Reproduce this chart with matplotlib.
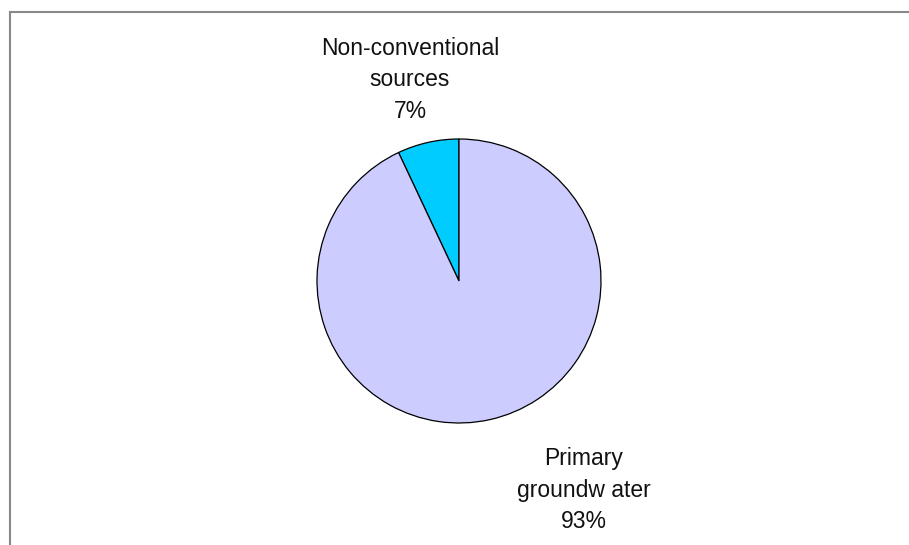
import matplotlib.pyplot as plt
from matplotlib.lines import Line2D

# water supply shares
labels = ["Non-conventional\nsources", "Primary\ngroundw ater"]
shares = [7, 93]
colors = ["#00CCFF", "#CCCCFF"]

W, H = 909, 545
fig = plt.figure(figsize=(W / 100, H / 100), dpi=100)
ax = fig.add_axes([0, 0, 1, 1])

cx, cy, r = 459, H - 281, 142
ax.pie(shares, colors=colors, startangle=90, counterclock=True,
       center=(cx, cy), radius=r, frame=True,
       wedgeprops=dict(edgecolor="black", linewidth=0.9))
ax.set_xlim(0, W)
ax.set_ylim(0, H)
ax.set_aspect("equal")
ax.axis("off")

font = dict(family="Liberation Sans", fontsize=16.5, color="#111111",
            ha="center", va="center", linespacing=1.48)
ax.text(410, H - 80, "%s\n%d%%" % (labels[0], shares[0]), **font)
ax.text(584, H - 490, "%s\n%d%%" % (labels[1], shares[1]), **font)

# chart border (top and left edges only)
fig.add_artist(Line2D([10 / W, 1], [1 - 12 / H, 1 - 12 / H], color="#888888", lw=1.5))
fig.add_artist(Line2D([10 / W, 10 / W], [0, 1 - 12 / H], color="#888888", lw=1.5))

fig.savefig("out.png", dpi=100)
